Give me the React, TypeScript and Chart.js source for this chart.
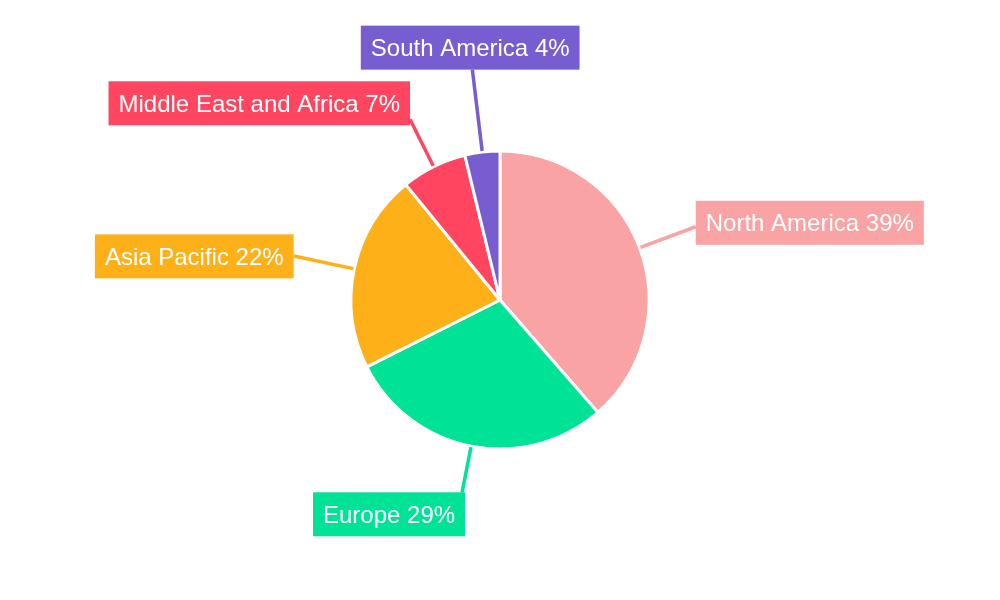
import React, { useEffect, useRef } from "react";
import { Chart, registerables } from "chart.js";

Chart.register(...registerables);

const regions = ["North America", "Europe", "Asia Pacific", "Middle East and Africa", "South America"];
const shares = [38.6, 29.0, 21.5, 7.1, 3.8];
const percentLabels = ["39%", "29%", "22%", "7%", "4%"];
const colors = ["#F9A3A4", "#00E396", "#FEB019", "#FF4560", "#775DD0"];

// leader line end radius and box anchor (fraction of box width/height at line end)
const leaderEnds = [209, 196, 211, 202, 232];
const boxAnchors: [number, number][] = [
  [0, 0.59],
  [0.98, 0],
  [1, 0.49],
  [1, 0.86],
  [0.51, 1],
];

const calloutPlugin = {
  id: "callouts",
  afterDatasetsDraw(chart: any) {
    const ctx = chart.ctx;
    const meta = chart.getDatasetMeta(0);
    ctx.save();
    ctx.font = '24px "Liberation Sans", Arial, sans-serif';
    ctx.textBaseline = "middle";
    ctx.textAlign = "center";
    meta.data.forEach((arc: any, i: number) => {
      const { x, y, startAngle, endAngle, outerRadius } = arc.getProps(
        ["x", "y", "startAngle", "endAngle", "outerRadius"],
        true
      );
      const mid = (startAngle + endAngle) / 2;
      const cos = Math.cos(mid);
      const sin = Math.sin(mid);
      const r0 = outerRadius + 1;
      const r1 = leaderEnds[i];
      const sx = x + cos * r0;
      const sy = y + sin * r0;
      const ex = x + cos * r1;
      const ey = y + sin * r1;
      ctx.strokeStyle = colors[i];
      ctx.lineWidth = 3.5;
      ctx.beginPath();
      ctx.moveTo(sx, sy);
      ctx.lineTo(ex, ey);
      ctx.stroke();

      const text = regions[i] + " " + percentLabels[i];
      const tw = ctx.measureText(text).width;
      const bw = tw + 20;
      const bh = 44;
      const bx = ex - boxAnchors[i][0] * bw;
      const by = ey - boxAnchors[i][1] * bh;
      ctx.fillStyle = colors[i];
      ctx.fillRect(bx, by, bw, bh);
      ctx.fillStyle = "#ffffff";
      ctx.fillText(text, bx + bw / 2, by + bh / 2 + 2);
    });
    ctx.restore();
  },
};

export default function App() {
  const canvasRef = useRef<HTMLCanvasElement | null>(null);

  useEffect(() => {
    const canvas = canvasRef.current;
    if (!canvas) return;
    const chart = new Chart(canvas, {
      type: "pie",
      data: {
        labels: regions,
        datasets: [
          {
            data: shares,
            backgroundColor: colors,
            borderColor: "#ffffff",
            borderWidth: 3,
          },
        ],
      },
      options: {
        responsive: false,
        animation: false,
        radius: 149,
        layout: { padding: 0 },
        plugins: {
          legend: { display: false },
          tooltip: { enabled: false },
        },
      } as any,
      plugins: [calloutPlugin],
    });
    return () => chart.destroy();
  }, []);

  return (
    <div style={{ position: "absolute", left: 0, top: 0, width: 1000, height: 600, background: "#ffffff" }}>
      <canvas ref={canvasRef} width={1000} height={600} style={{ display: "block" }} />
    </div>
  );
}
